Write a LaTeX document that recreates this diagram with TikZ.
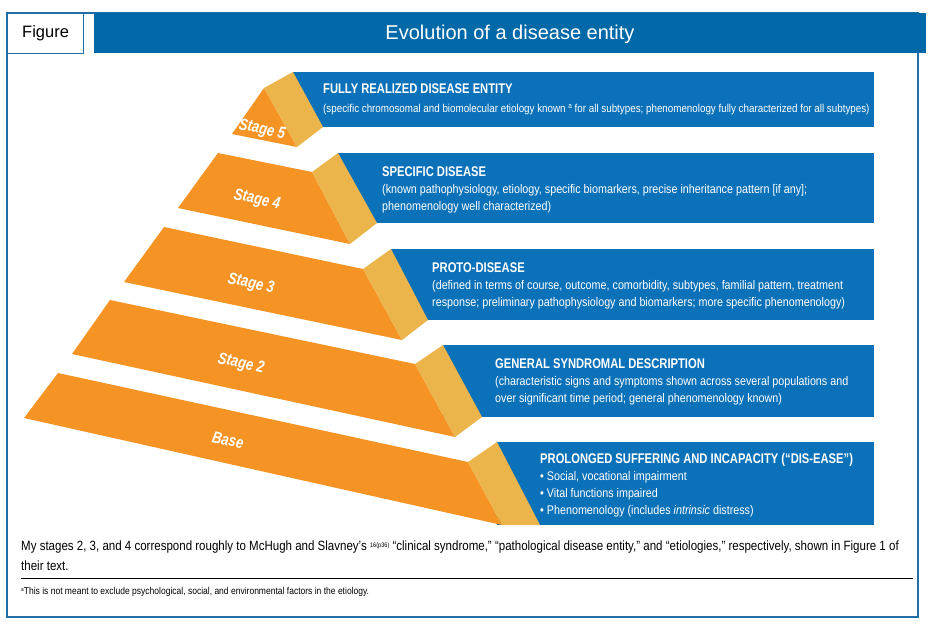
\documentclass[tikz,border=0pt]{standalone}
\usepackage{fontspec}
\setmainfont{Liberation Sans}
\newfontfamily\cond{Liberation Sans}[FakeStretch=0.8]
\newfontfamily\condm{Liberation Sans}[FakeStretch=0.86]
\definecolor{hdrblue}{HTML}{0169A8}
\definecolor{boxblue}{HTML}{0B71B9}
\definecolor{orng}{HTML}{F59424}
\definecolor{tanc}{HTML}{EBB54B}
\definecolor{frameblue}{HTML}{1F6FA6}
\tikzset{
  orangeface/.style={fill=orng,draw=none},
  tanface/.style={fill=tanc,draw=none},
  bluebox/.style={fill=boxblue,draw=none},
  ttl/.style={anchor=base west,inner sep=0pt,text=white,font=\cond\bfseries\fontsize{14}{16}\selectfont},
  bdy/.style={anchor=base west,inner sep=0pt,text=white,font=\condm\fontsize{12.5}{14}\selectfont},
  bdysmall/.style={anchor=base west,inner sep=0pt,text=white,font=\condm\fontsize{11.4}{14}\selectfont},
  stg/.style={inner sep=0pt,text=white,rotate=-12,font=\cond\bfseries\itshape\fontsize{16.5}{18}\selectfont},
  foot/.style={anchor=base west,inner sep=0pt,text=black,font=\condm\fontsize{13.4}{15}\selectfont}
}
\begin{document}
\begin{tikzpicture}[x=1pt,y=-1pt]
\useasboundingbox (0,0) rectangle (936,624);
\fill[white] (0,0) rectangle (936,624);
% frame
\draw[frameblue,line width=1.2pt] (7,13) rectangle (918,617);
\node[draw=frameblue,line width=1.2pt,fill=white,minimum width=76pt,minimum height=40pt,font=\fontsize{16.5}{20}\selectfont,anchor=north west,inner sep=0pt] (fig) at (7,13) {Figure};
\fill[hdrblue] (94,13) rectangle (926,53);
\node[text=white,font=\fontsize{20}{24}\selectfont,inner sep=0pt] (hdr) at (510,34) {Evolution of a disease entity};

% Stage 5
\fill[bluebox] (293,72) rectangle (874,127);
\fill[orangeface] (264,88) -- (297,147) -- (232,134) -- cycle;
\fill[tanface] (264,88) -- (293,72) -- (323,127) -- (297,147) -- cycle;
\node[stg] (s5) at (262,130) {Stage 5};
\node[ttl] (t5) at (323,93.5) {FULLY REALIZED DISEASE ENTITY};
\node[bdysmall] (b5a) at (323,112) {(specific chromosomal and biomolecular etiology known \raisebox{4pt}{\fontsize{7.5}{8}\selectfont a} for all subtypes; phenomenology fully characterized for all subtypes)};

% Stage 4
\fill[bluebox] (338,153) rectangle (874,223);
\fill[orangeface] (218,153) -- (312,172) -- (350,244) -- (178,208) -- cycle;
\fill[tanface] (312,172) -- (338,153) -- (377,223) -- (350,244) -- cycle;
\node[stg] (s4) at (257,200) {Stage 4};
\node[ttl] (t4) at (382,176) {SPECIFIC DISEASE};
\node[bdy] (b4a) at (382,193.5) {(known pathophysiology, etiology, specific biomarkers, precise inheritance pattern [if any];};
\node[bdy] (b4b) at (382,210) {phenomenology well characterized)};

% Stage 3
\fill[bluebox] (391,249) rectangle (874,320);
\fill[orangeface] (164,227) -- (363,269) -- (402,340) -- (124,282) -- cycle;
\fill[tanface] (363,269) -- (391,249) -- (428,320) -- (402,340) -- cycle;
\node[stg] (s3) at (251,284) {Stage 3};
\node[ttl] (t3) at (432,272) {PROTO-DISEASE};
\node[bdy] (b3a) at (432,289.5) {(defined in terms of course, outcome, comorbidity, subtypes, familial pattern, treatment};
\node[bdy] (b3b) at (432,306) {response; preliminary pathophysiology and biomarkers; more specific phenomenology)};

% Stage 2
\fill[bluebox] (443,345) rectangle (874,417);
\fill[orangeface] (110,300) -- (415,364) -- (455,437) -- (72,354) -- cycle;
\fill[tanface] (415,364) -- (443,345) -- (482,417) -- (455,437) -- cycle;
\node[stg] (s2) at (241,364) {Stage 2};
\node[ttl] (t2) at (495,368) {GENERAL SYNDROMAL DESCRIPTION};
\node[bdy] (b2a) at (495,385.5) {(characteristic signs and symptoms shown across several populations and};
\node[bdy] (b2b) at (495,402) {over significant time period; general phenomenology known)};

% Base
\fill[bluebox] (497,442) rectangle (874,525);
\fill[orangeface] (58,373) -- (468,462) -- (502,525) -- (24,418) -- cycle;
\fill[tanface] (468,462) -- (497,442) -- (540,525) -- (502,525) -- cycle;
\node[stg] (s1) at (228,440) {Base};
\node[ttl] (t1) at (540,463) {PROLONGED SUFFERING AND INCAPACITY (“DIS-EASE”)};
\node[bdy] (b1a) at (540,480.5) {\textbullet\ Social, vocational impairment};
\node[bdy] (b1b) at (540,497.5) {\textbullet\ Vital functions impaired};
\node[bdy] (b1c) at (540,514.5) {\textbullet\ Phenomenology (includes \textit{intrinsic} distress)};

% footer
\node[foot] (f1) at (21,550) {My stages 2, 3, and 4 correspond roughly to McHugh and Slavney’s \raisebox{3pt}{\fontsize{6.5}{7}\selectfont 16(p36)} “clinical syndrome,” “pathological disease entity,” and “etiologies,” respectively, shown in Figure 1 of};
\node[foot] (f2) at (21,570) {their text.};
\coordinate (r1) at (21,578);
\coordinate (r2) at (913,578);
\draw[black,line width=0.8pt] (r1) -- (r2);
\node[anchor=base west,inner sep=0pt,font=\condm\fontsize{9.9}{11}\selectfont] (fn) at (21,594) {\raisebox{2.5pt}{\fontsize{5.5}{6}\selectfont a}This is not meant to exclude psychological, social, and environmental factors in the etiology.};
\end{tikzpicture}
\end{document}
